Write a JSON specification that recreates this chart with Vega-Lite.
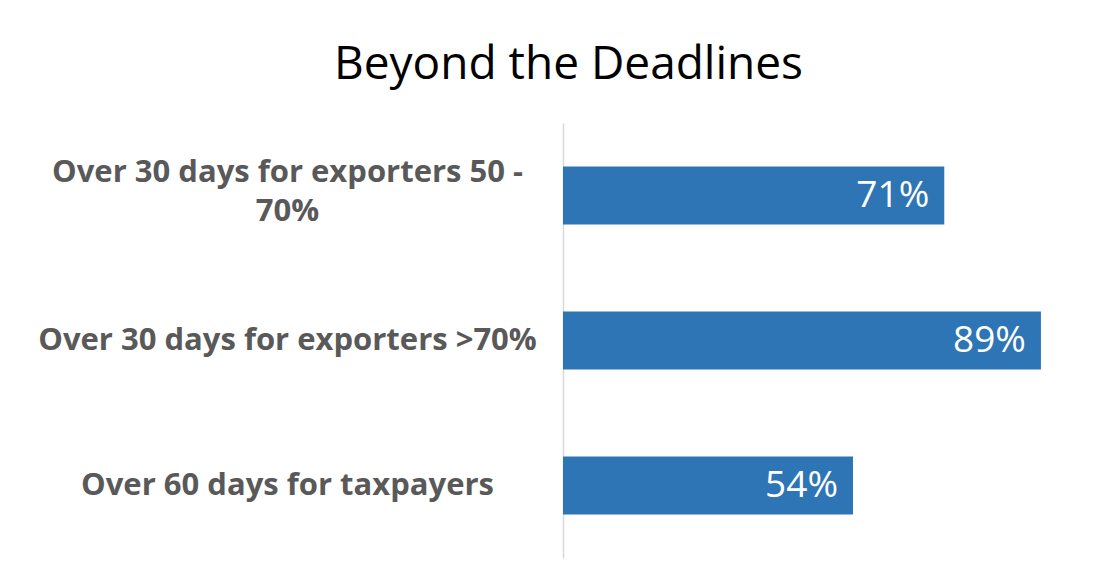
{
  "$schema": "https://vega.github.io/schema/vega-lite/v6.json",
  "width": 537,
  "height": 435,
  "autosize": {"type": "none"},
  "padding": {"left": 563, "top": 123, "right": 15, "bottom": 28},
  "background": "white",
  "title": {
    "text": "Beyond the Deadlines",
    "font": "Open Sans",
    "fontSize": 46,
    "fontWeight": "normal",
    "color": "#000000",
    "anchor": "middle",
    "dx": -263,
    "offset": 34
  },
  "data": {
    "values": [
      {"category": "Over 30 days for exporters 50 - 70%", "value": 0.71},
      {"category": "Over 30 days for exporters >70%", "value": 0.89},
      {"category": "Over 60 days for taxpayers", "value": 0.54}
    ]
  },
  "encoding": {
    "y": {
      "field": "category",
      "type": "nominal",
      "sort": null,
      "scale": {"paddingInner": 0.6, "paddingOuter": 0.3},
      "axis": {
        "title": null,
        "ticks": false,
        "grid": false,
        "domainColor": "#d9d9d9",
        "domainWidth": 1.5,
        "labelFont": "Open Sans",
        "labelFontSize": 31,
        "labelFontWeight": "bold",
        "labelColor": "#595959",
        "labelAlign": "center",
        "labelPadding": 276,
        "labelLimit": 0,
        "labelLineHeight": 39,
        "labelOffset": {"condition": {"test": "datum.value == 'Over 30 days for exporters 50 - 70%'", "value": -23}, "value": 0},
        "labelExpr": "datum.value == 'Over 30 days for exporters 50 - 70%' ? ['Over 30 days for exporters 50 -', '70%'] : datum.value"
      }
    },
    "x": {
      "field": "value",
      "type": "quantitative",
      "scale": {"domain": [0, 1]},
      "axis": null
    }
  },
  "layer": [
    {"mark": {"type": "bar", "color": "#2E75B6"}},
    {
      "mark": {
        "type": "text",
        "align": "right",
        "baseline": "middle",
        "dx": -15,
        "font": "Open Sans",
        "fontSize": 37,
        "color": "white"
      },
      "encoding": {
        "text": {"field": "value", "type": "quantitative", "format": ".0%"}
      }
    }
  ],
  "config": {"view": {"stroke": null}}
}
